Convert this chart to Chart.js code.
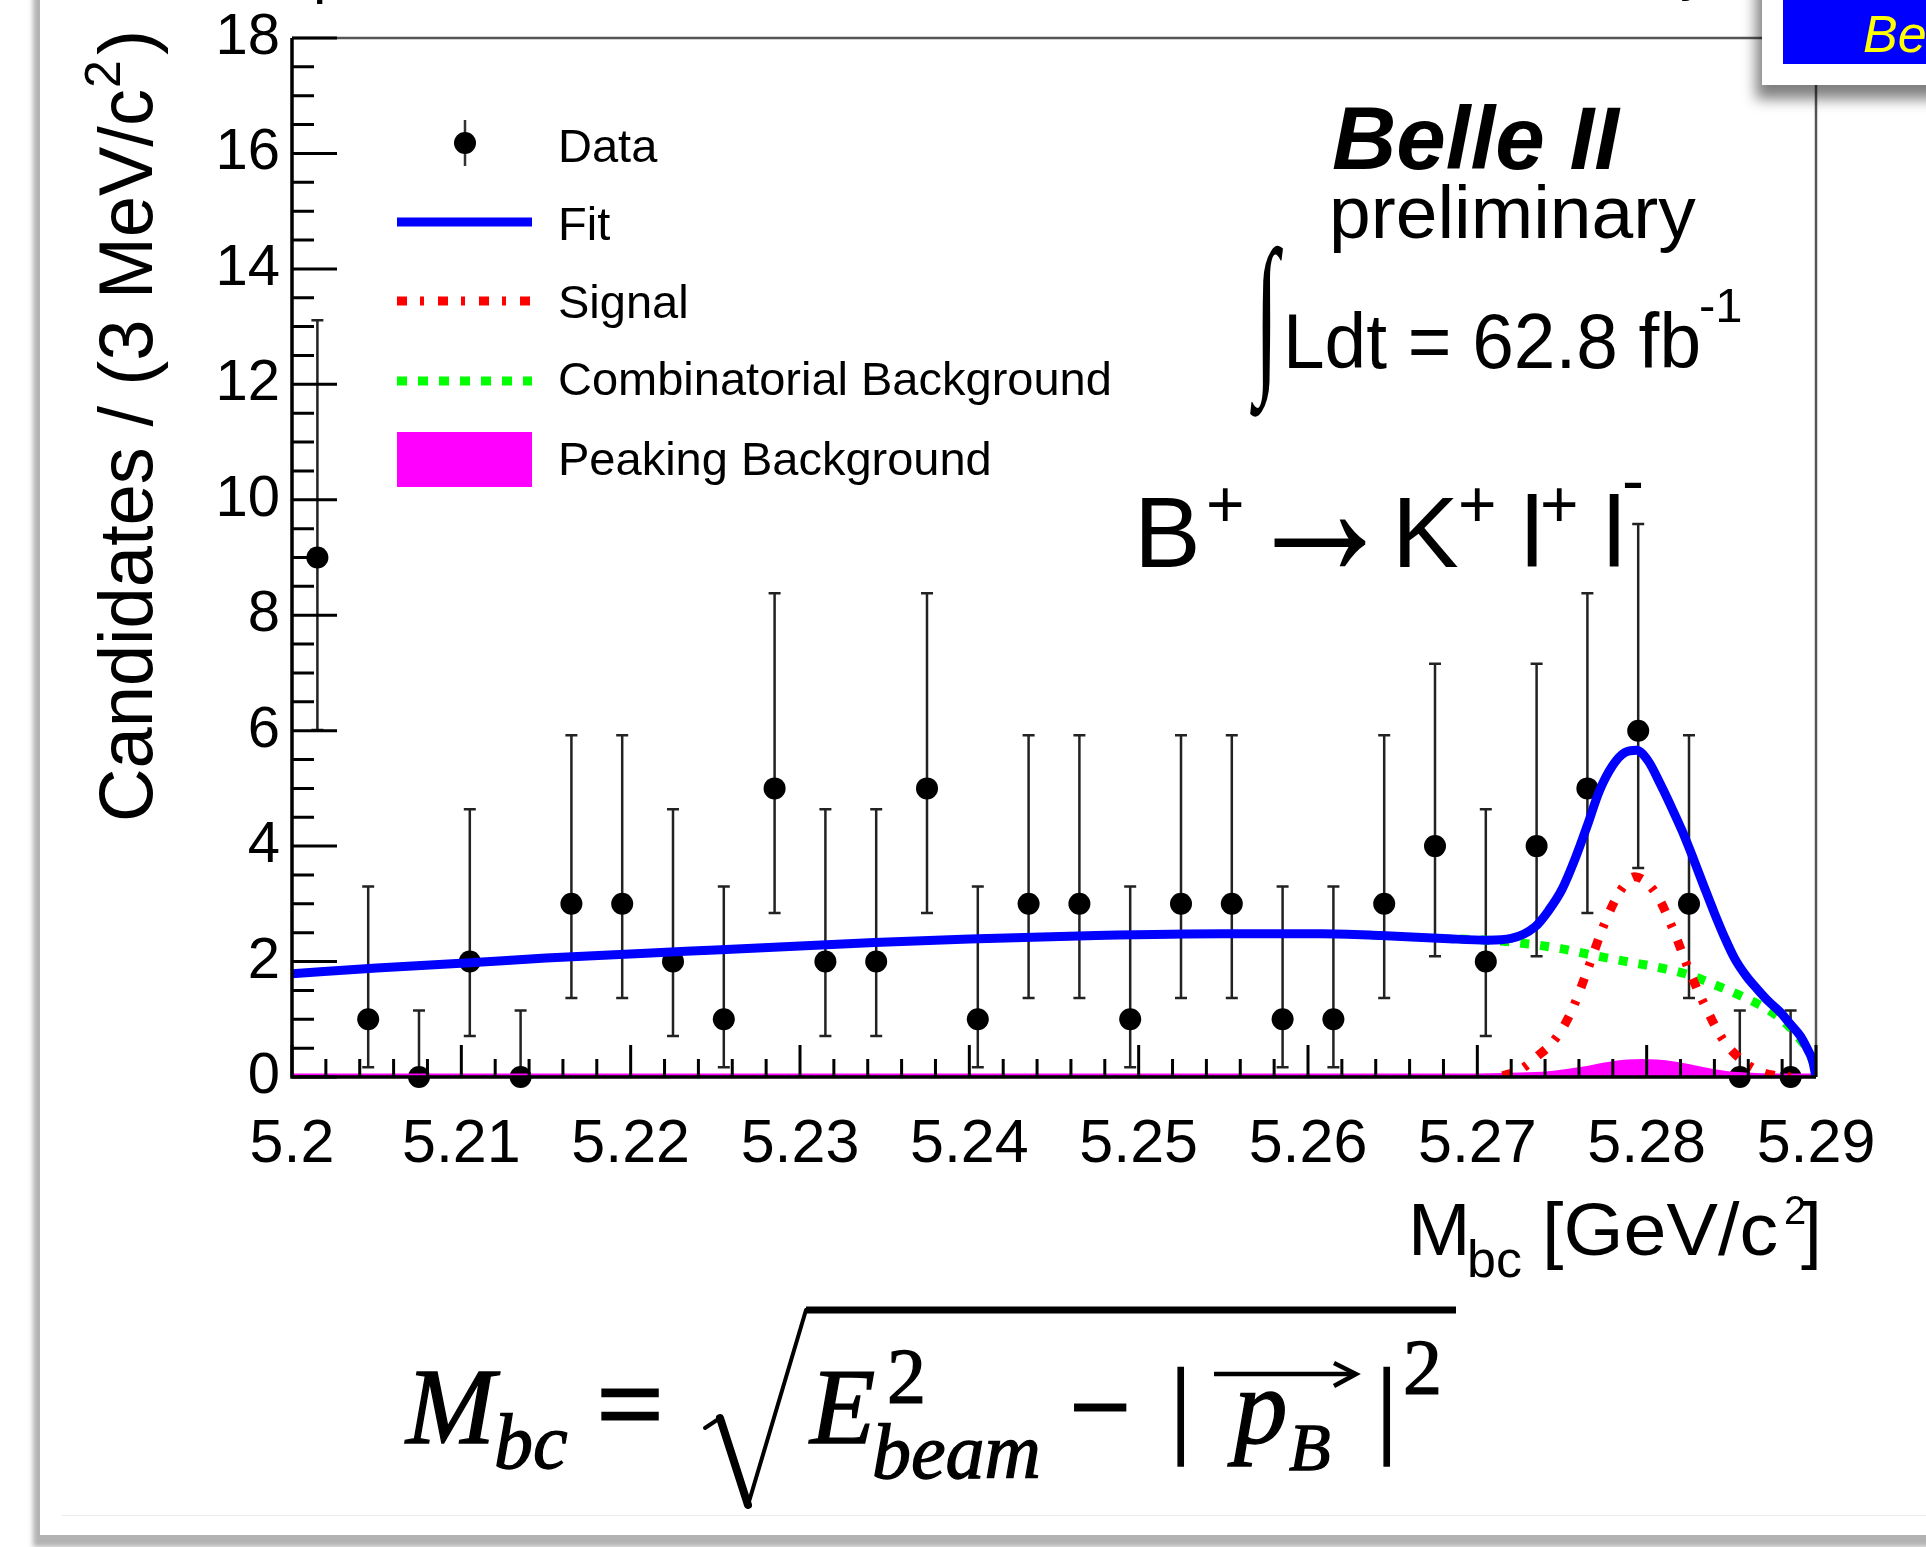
<!DOCTYPE html>
<html>
<head>
<meta charset="utf-8">
<title>B+ -> K+ l+ l- Mbc</title>
<script src="https://cdn.jsdelivr.net/npm/chart.js@4.4.1/dist/chart.umd.min.js"></script>
<style>
  html, body { margin: 0; padding: 0; background: #fff; width: 1926px; height: 1547px; overflow: hidden; }
  #slide { position: absolute; left: 40px; top: -40px; width: 1940px; height: 1575px; background: #fff;
           box-shadow: -7px 12px 5px rgba(0,0,0,0.3); }
  #rule { position: absolute; left: 62px; top: 1515px; width: 1870px; height: 1px; background: #ececec; }
  #plot, #ann { position: absolute; left: 0; top: 0; }
  #ann text { font-family: "Liberation Sans", Arial, sans-serif; fill: #000; }
  #ann .serif { font-family: "Liberation Serif", "Times New Roman", serif; stroke: #000; stroke-width: 1.3px; }
</style>
</head>
<body>
<div id="slide"></div>
<div id="rule"></div>
<canvas id="plot" width="1926" height="1547"></canvas>

<svg id="ann" width="1926" height="1547" xmlns="http://www.w3.org/2000/svg">
  <defs>
    <filter id="boxShadow" x="-50%" y="-50%" width="200%" height="200%">
      <feDropShadow dx="-6" dy="14" stdDeviation="7" flood-color="#000" flood-opacity="0.5"/>
    </filter>
  </defs>

  <!-- obrezannaya stroka zagolovka sverhu -->
  <text x="313" y="-8" font-size="60">p</text>
  <text x="1680" y="-11" font-size="60">y</text>

  <!-- legenda -->
  <line x1="465" y1="120" x2="465" y2="166" stroke="#333" stroke-width="2.5"/>
  <circle cx="465" cy="143" r="11" fill="#000"/>
  <line x1="397" y1="222" x2="532" y2="222" stroke="#0000ff" stroke-width="9"/>
  <line x1="397" y1="301" x2="532" y2="301" stroke="#ff0000" stroke-width="9" stroke-dasharray="10 13 4 14"/>
  <line x1="397" y1="381" x2="532" y2="381" stroke="#00ff00" stroke-width="9" stroke-dasharray="10 11"/>
  <rect x="397" y="432" width="135" height="55" fill="#ff00ff"/>
  <text x="558" y="162" font-size="47">Data</text>
  <text x="558" y="240" font-size="47">Fit</text>
  <text x="558" y="318" font-size="47">Signal</text>
  <text x="558" y="395" font-size="47">Combinatorial Background</text>
  <text x="558" y="475" font-size="47">Peaking Background</text>

  <!-- Belle II -->
  <text x="1332" y="169" font-size="89" font-weight="bold" font-style="italic">Belle II</text>
  <text x="1329" y="238" font-size="75">preliminary</text>
  <text id="integral" class="serif" font-size="150" style="stroke-width:0">∫</text>
  <text x="1283" y="368" font-size="78" textLength="418" lengthAdjust="spacingAndGlyphs">Ldt = 62.8 fb</text>
  <text x="1699" y="322" font-size="49">-1</text>

  <!-- B+ -> K+ l+ l- -->
  <text x="1134" y="567" font-size="100">B</text>
  <text x="1206" y="527" font-size="66">+</text>
  <text id="arrow" font-size="100">→</text>
  <text x="1392" y="567" font-size="100">K</text>
  <text x="1458" y="527" font-size="66">+</text>
  <text x="1521" y="567" font-size="100">l</text>
  <text x="1540" y="527" font-size="66">+</text>
  <text x="1603" y="567" font-size="100">l</text>
  <text x="1622" y="503" font-size="66">-</text>

  <!-- podpisi osej -->
  <text transform="translate(152,822) rotate(-90)" font-size="76" textLength="733" lengthAdjust="spacingAndGlyphs">Candidates / (3 MeV/c</text>
  <text transform="translate(120,88) rotate(-90)" font-size="50">2</text>
  <text transform="translate(152,55) rotate(-90)" font-size="76">)</text>

  <text x="1408" y="1255" font-size="75">M</text>
  <text x="1467" y="1277" font-size="52">bc</text>
  <text x="1542" y="1255" font-size="75" textLength="236" lengthAdjust="spacingAndGlyphs">[GeV/c</text>
  <text x="1784" y="1224" font-size="40">2</text>
  <text x="1801" y="1255" font-size="75">]</text>

  <!-- formula M_bc -->
  <text class="serif" x="406" y="1443" font-size="107" font-style="italic">M</text>
  <text class="serif" x="494" y="1468" font-size="78" font-style="italic">bc</text>
  <text class="serif" x="597" y="1443" font-size="117" style="stroke-width:3px">=</text>
  <g stroke="#000" fill="none" stroke-linecap="round">
    <line x1="705" y1="1428" x2="720" y2="1418" stroke-width="4"/>
    <line x1="720" y1="1418" x2="748" y2="1505" stroke-width="8"/>
    <line x1="748" y1="1505" x2="806" y2="1310" stroke-width="4"/>
    <line x1="806" y1="1310" x2="1456" y2="1310" stroke-width="7" stroke-linecap="butt"/>
  </g>
  <text class="serif" x="810" y="1443" font-size="107" font-style="italic">E</text>
  <text class="serif" x="887" y="1402" font-size="78">2</text>
  <text class="serif" x="872" y="1478" font-size="78" font-style="italic">beam</text>
  <text class="serif" x="1070" y="1443" font-size="107" style="stroke-width:2.5px">−</text>
  <text class="serif" x="1170" y="1443" font-size="107">|</text>
  <line x1="1214" y1="1374" x2="1352" y2="1374" stroke="#000" stroke-width="4.5"/>
  <path d="M1334 1363 L1356 1374 L1334 1386" stroke="#000" stroke-width="4.5" fill="none"/>
  <text class="serif" x="1234" y="1443" font-size="107" font-style="italic">p</text>
  <text class="serif" x="1289" y="1470" font-size="68" font-style="italic">B</text>
  <text class="serif" x="1376" y="1443" font-size="107">|</text>
  <text class="serif" x="1403" y="1393" font-size="78">2</text>

  <!-- plashka v pravom verhnem uglu -->
  <rect x="1762" y="-40" width="300" height="125" fill="#fff" filter="url(#boxShadow)"/>
  <rect x="1783" y="-40" width="300" height="104" fill="#0000ff"/>
  <text x="1863" y="52" font-size="52" font-style="italic" style="fill:#ffff00">Belle II</text>
</svg>

<script>
// Centry binov (3 MeV) i chislo kandidatov
const binCenters = [5.2015, 5.2045, 5.2075, 5.2105, 5.2135, 5.2165, 5.2195, 5.2225, 5.2255, 5.2285,
                    5.2315, 5.2345, 5.2375, 5.2405, 5.2435, 5.2465, 5.2495, 5.2525, 5.2555, 5.2585,
                    5.2615, 5.2645, 5.2675, 5.2705, 5.2735, 5.2765, 5.2795, 5.2825, 5.2855, 5.2885];
const counts = [9, 1, 0, 2, 0, 3, 3, 2, 1, 5, 2, 2, 5, 1, 3, 3, 1, 3, 3, 1, 1, 3, 4, 2, 4, 5, 6, 3, 0, 0];
// Koncy oshibok (Puasson)
const errLow  = [6.01, 0.17, 0, 0.71, 0, 1.37, 1.37, 0.71, 0.17, 2.84, 0.71, 0.71, 2.84, 0.17, 1.37,
                 1.37, 0.17, 1.37, 1.37, 0.17, 0.17, 1.37, 2.09, 0.71, 2.09, 2.84, 3.62, 1.37, 0, 0];
const errHigh = [13.11, 3.30, 1.15, 4.64, 1.15, 5.92, 5.92, 4.64, 3.30, 8.38, 4.64, 4.64, 8.38, 3.30, 5.92,
                 5.92, 3.30, 5.92, 5.92, 3.30, 3.30, 5.92, 7.16, 4.64, 7.16, 8.38, 9.58, 5.92, 1.15, 1.15];

// Polnyj fit
const fitX = [5.2, 5.205, 5.2105, 5.215, 5.2212, 5.225, 5.23, 5.2344, 5.24, 5.2475, 5.255, 5.2608, 5.2643,
              5.268, 5.2706, 5.272, 5.2734, 5.2742, 5.275, 5.2758, 5.2765, 5.2772, 5.278, 5.2787, 5.2794,
              5.2801, 5.2808, 5.2815, 5.2821, 5.2828, 5.2834, 5.284, 5.2846, 5.2852, 5.2859, 5.2866,
              5.2872, 5.2879, 5.2885, 5.2891, 5.2895, 5.2898, 5.29];
const fitY = [1.79, 1.89, 1.98, 2.06, 2.15, 2.2, 2.27, 2.33, 2.39, 2.45, 2.48, 2.48, 2.45,
              2.4, 2.37, 2.4, 2.6, 2.88, 3.25, 3.8, 4.36, 4.95, 5.4, 5.62, 5.66,
              5.47, 5.08, 4.65, 4.26, 3.75, 3.29, 2.84, 2.42, 2.05, 1.74, 1.5,
              1.31, 1.12, 0.91, 0.7, 0.48, 0.28, 0];

// Signal
const sigX = [5.2715, 5.2725, 5.2735, 5.2745, 5.2755, 5.2765, 5.2775, 5.2785, 5.2793, 5.2805,
              5.2815, 5.2825, 5.2835, 5.2845, 5.2855, 5.2865, 5.2875, 5.2885];
const sigY = [0.02, 0.12, 0.35, 0.62, 1.1, 1.85, 2.65, 3.25, 3.47, 3.2,
              2.6, 1.85, 1.2, 0.65, 0.32, 0.12, 0.03, 0];

// Kombinatornyj fon
const combX = [5.269, 5.2706, 5.2729, 5.275, 5.277, 5.279, 5.281, 5.2824, 5.284, 5.2856, 5.2872,
               5.2884, 5.2892, 5.2897, 5.29];
const combY = [2.39, 2.37, 2.31, 2.22, 2.1, 1.99, 1.88, 1.78, 1.6, 1.4, 1.16,
               0.88, 0.6, 0.38, 0];

// Pikovyj fon
const peakX = [5.2, 5.27, 5.273, 5.2745, 5.2763, 5.2779, 5.2797, 5.2816, 5.2832, 5.2848, 5.2864, 5.288, 5.29];
const peakY = [0, 0, 0.02, 0.05, 0.12, 0.21, 0.25, 0.21, 0.12, 0.04, 0.01, 0, 0];

const pts = (xs, ys) => xs.map((x, i) => ({ x: x, y: ys[i] }));

// Vpisat glif v zadannuyu ramku (po chernilam)
function fitInk(id, x1, y1, x2, y2) {
  const el = document.getElementById(id);
  const size = parseFloat(el.getAttribute('font-size'));
  const c = document.createElement('canvas').getContext('2d');
  c.font = size + 'px ' + getComputedStyle(el).fontFamily;
  const m = c.measureText(el.textContent);
  const sx = (x2 - x1) / (m.actualBoundingBoxLeft + m.actualBoundingBoxRight);
  const sy = (y2 - y1) / (m.actualBoundingBoxAscent + m.actualBoundingBoxDescent);
  el.setAttribute('x', 0);
  el.setAttribute('y', 0);
  el.setAttribute('transform', 'translate(' + (x1 + m.actualBoundingBoxLeft * sx) + ',' +
                  (y1 + m.actualBoundingBoxAscent * sy) + ') scale(' + sx + ',' + sy + ')');
}
fitInk('integral', 1250, 245, 1283, 418);
fitInk('arrow', 1274, 518, 1366, 566);

// Oshibki dannyh - risuem do tochek
const errorBars = {
  id: 'errorBars',
  beforeDatasetsDraw(chart) {
    const { ctx, scales: { x, y } } = chart;
    ctx.save();
    ctx.strokeStyle = '#222';
    ctx.lineWidth = 2.5;
    binCenters.forEach((c, i) => {
      const px = x.getPixelForValue(c);
      const lo = y.getPixelForValue(errLow[i]);
      const hi = y.getPixelForValue(errHigh[i]);
      ctx.beginPath();
      ctx.moveTo(px, lo); ctx.lineTo(px, hi);
      ctx.moveTo(px - 6, lo); ctx.lineTo(px + 6, lo);
      ctx.moveTo(px - 6, hi); ctx.lineTo(px + 6, hi);
      ctx.stroke();
    });
    ctx.restore();
  }
};

// Ramka i vnutrennie risochki kak v ROOT
const rootFrame = {
  id: 'rootFrame',
  afterDatasetsDraw(chart) {
    const { ctx, chartArea: a, scales: { x, y } } = chart;
    ctx.save();
    ctx.strokeStyle = '#555';
    ctx.lineWidth = 2.5;
    ctx.beginPath();
    ctx.moveTo(a.left, a.top); ctx.lineTo(a.right, a.top); ctx.lineTo(a.right, a.bottom);
    ctx.stroke();

    ctx.strokeStyle = '#000';
    ctx.lineWidth = 3;
    ctx.beginPath();
    for (let i = 0; i <= 36; i++) {
      const py = y.getPixelForValue(i * 0.5);
      const len = i % 4 === 0 ? 45 : 22;
      ctx.moveTo(a.left, py); ctx.lineTo(a.left + len, py);
    }
    for (let i = 0; i <= 45; i++) {
      const px = x.getPixelForValue(5.2 + i * 0.002);
      const len = i % 5 === 0 ? 32 : 18;
      ctx.moveTo(px, a.bottom); ctx.lineTo(px, a.bottom - len);
    }
    ctx.stroke();

    ctx.lineWidth = 3.5;
    ctx.beginPath();
    ctx.moveTo(a.left, a.top); ctx.lineTo(a.left, a.bottom); ctx.lineTo(a.right, a.bottom);
    ctx.stroke();
    ctx.restore();
  }
};

new Chart(document.getElementById('plot'), {
  type: 'scatter',
  data: {
    datasets: [
      { label: 'Fit', data: pts(fitX, fitY), showLine: true, borderColor: '#0000ff', borderWidth: 9,
        pointRadius: 0, cubicInterpolationMode: 'monotone' },
      { label: 'Signal', data: pts(sigX, sigY), showLine: true, borderColor: '#ff0000', borderWidth: 9,
        borderDash: [10, 13, 4, 14], pointRadius: 0, cubicInterpolationMode: 'monotone' },
      { label: 'Combinatorial Background', data: pts(combX, combY), showLine: true, borderColor: '#00ff00',
        borderWidth: 9, borderDash: [9, 11], pointRadius: 0, cubicInterpolationMode: 'monotone' },
      { label: 'Peaking Background', data: pts(peakX, peakY), showLine: true, borderColor: '#ff00ff',
        backgroundColor: '#ff00ff', fill: 'origin', borderWidth: 7, pointRadius: 0,
        cubicInterpolationMode: 'monotone' },
      { label: 'Data', data: pts(binCenters, counts), pointRadius: 11, pointBackgroundColor: '#000',
        pointBorderWidth: 0, clip: false }
    ]
  },
  options: {
    responsive: false,
    animation: false,
    devicePixelRatio: 1,
    layout: { padding: { left: 0, top: 38, right: 110, bottom: 0 } },
    plugins: { legend: { display: false }, tooltip: { enabled: false } },
    scales: {
      x: {
        type: 'linear', min: 5.2, max: 5.29,
        afterFit: s => { s.height = 470; },
        grid: { display: false, drawTicks: false },
        border: { display: false },
        ticks: { stepSize: 0.01, autoSkip: false, maxRotation: 0, padding: 32, color: '#000',
                 font: { family: 'Liberation Sans', size: 61 },
                 callback: v => String(+v.toFixed(2)) }
      },
      y: {
        min: 0, max: 18,
        afterFit: s => { s.width = 292; s.paddingTop = 0; s.paddingBottom = 0; },
        grid: { display: false, drawTicks: false },
        border: { display: false },
        ticks: { stepSize: 2, padding: 12, color: '#000', font: { family: 'Liberation Sans', size: 58 } }
      }
    }
  },
  plugins: [errorBars, rootFrame]
});
</script>
</body>
</html>
